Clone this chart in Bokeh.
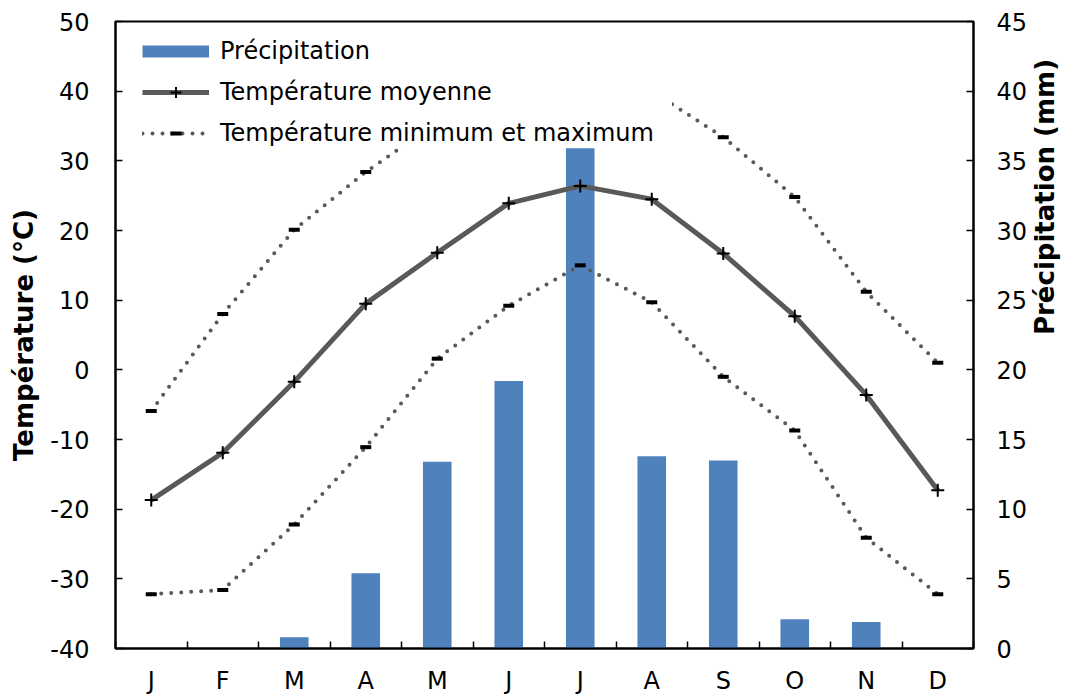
import math
import numpy as np
from bokeh.plotting import figure
from bokeh.models import (Range1d, LinearAxis, FixedTicker, Legend, LegendItem)
from bokeh.embed import file_html
from bokeh.resources import INLINE

# ---------------- data ----------------
months = ["J", "F", "M", "A", "M", "J", "J", "A", "S", "O", "N", "D"]
precip = [0, 0, 0.8, 5.4, 13.4, 19.2, 35.9, 13.8, 13.5, 2.1, 1.9, 0]
t_mean = [-18.7, -11.9, -1.7, 9.5, 16.8, 23.9, 26.4, 24.5, 16.7, 7.7, -3.6, -17.3]
t_min = [-32.2, -31.6, -22.2, -11.1, 1.6, 9.2, 15.0, 9.7, -1.0, -8.7, -24.1, -32.2]
t_max = [-5.9, 8.0, 20.1, 28.4, 35.5, 40.5, 42.5, 40.0, 33.4, 24.8, 11.2, 1.0]
temp_ticks = [-40, -30, -20, -10, 0, 10, 20, 30, 40, 50]
temp_tick_labels = ["-40", "-30", "-20", "-10", "0", "10", "20", "30", "40", "50"]
precip_ticks = [0, 5, 10, 15, 20, 25, 30, 35, 40, 45]
precip_tick_labels = ["0", "5", "10", "15", "20", "25", "30", "35", "40", "45"]

xs = list(range(1, len(months) + 1))

FONT = "DejaVu Sans"
GREY = "#595959"
BLUE = "#4F81BD"

p = figure(width=1079, height=698, output_backend="svg", toolbar_location=None,
           x_range=Range1d(0.5, 12.5), y_range=Range1d(-40, 50),
           min_border_left=115, min_border_right=106, min_border_top=21,
           min_border_bottom=50, background_fill_color="white",
           border_fill_color="white")
p.extra_y_ranges = {"prec": Range1d(0, 45)}
p.grid.visible = False
p.outline_line_color = "black"
p.outline_line_width = 2

# bars
p.vbar(x=xs, top=precip, width=0.4, y_range_name="prec", fill_color=BLUE,
       line_color=None)

# min / max dotted lines
r_max = p.line(xs, t_max, line_color=GREY, line_width=4, line_dash="0 10",
               line_cap="round", line_join="round")
p.line(xs, t_min, line_color=GREY, line_width=4, line_dash="0 10",
       line_cap="round", line_join="round")
r_dash = p.scatter(xs, t_max, marker="dash", size=11, line_width=4, line_color="black")
p.scatter(xs, t_min, marker="dash", size=11, line_width=4, line_color="black")

# mean line
r_mean = p.line(xs, t_mean, line_color=GREY, line_width=5, line_join="round")
r_cross = p.scatter(xs, t_mean, marker="cross", size=13, line_width=2, line_color="black")

# dummy for the precipitation legend swatch
r_prec_leg = p.line([np.nan], [np.nan], line_color=BLUE, line_width=12, line_cap="butt")

# axes
xa = p.xaxis[0]
xa.ticker = FixedTicker(ticks=xs, minor_ticks=[i + 0.5 for i in range(0, 13)])
xa.major_label_overrides = {i: m for i, m in zip(xs, months)}
xa.major_tick_line_color = None
xa.minor_tick_in = 7
xa.minor_tick_out = 0
xa.minor_tick_line_width = 1.5
xa.minor_tick_line_color = "black"
xa.axis_line_width = 2
xa.axis_line_color = "black"
xa.major_label_standoff = 12
xa.major_label_text_font = FONT
xa.major_label_text_font_size = "24px"
xa.major_label_text_color = "black"

ya = p.yaxis[0]
ya.ticker = FixedTicker(ticks=temp_ticks)
ya.major_label_overrides = {t: s for t, s in zip(temp_ticks, temp_tick_labels)}
ya.major_tick_in = 7
ya.major_tick_out = 0
ya.major_tick_line_width = 1.5
ya.minor_tick_line_color = None
ya.axis_line_width = 2
ya.major_label_standoff = 26
ya.major_label_text_font = FONT
ya.major_label_text_font_size = "24px"
ya.major_label_text_color = "black"
ya.axis_label = "Température (°C)"
ya.axis_label_standoff = 8
ya.axis_label_text_font = FONT
ya.axis_label_text_font_style = "bold"
ya.axis_label_text_font_size = "26px"
ya.axis_label_text_color = "black"

ra = LinearAxis(y_range_name="prec", ticker=FixedTicker(ticks=precip_ticks))
ra.major_label_overrides = {t: s for t, s in zip(precip_ticks, precip_tick_labels)}
ra.major_tick_in = 7
ra.major_tick_out = 0
ra.major_tick_line_width = 1.5
ra.minor_tick_line_color = None
ra.axis_line_width = 2
ra.major_label_standoff = 23
ra.major_label_text_font = FONT
ra.major_label_text_font_size = "24px"
ra.major_label_text_color = "black"
ra.axis_label = "Précipitation (mm)"
ra.axis_label_standoff = 15
ra.axis_label_orientation = math.pi / 2
ra.axis_label_text_font = FONT
ra.axis_label_text_font_style = "bold"
ra.axis_label_text_font_size = "26px"
ra.axis_label_text_color = "black"
p.add_layout(ra, "right")

legend = Legend(items=[
    LegendItem(label="Précipitation", renderers=[r_prec_leg]),
    LegendItem(label="Température moyenne", renderers=[r_mean, r_cross]),
    LegendItem(label="Température minimum et maximum", renderers=[r_max, r_dash]),
], location=(27, 501), padding=3, margin=0, spacing=13, glyph_width=67,
    glyph_height=28, label_standoff=11, label_width=452,
    label_text_font=FONT, label_text_font_size="24px", label_text_color="black",
    background_fill_color="white", background_fill_alpha=1.0,
    border_line_color=None)
p.add_layout(legend)

open("out.html", "w").write(file_html(p, INLINE))
